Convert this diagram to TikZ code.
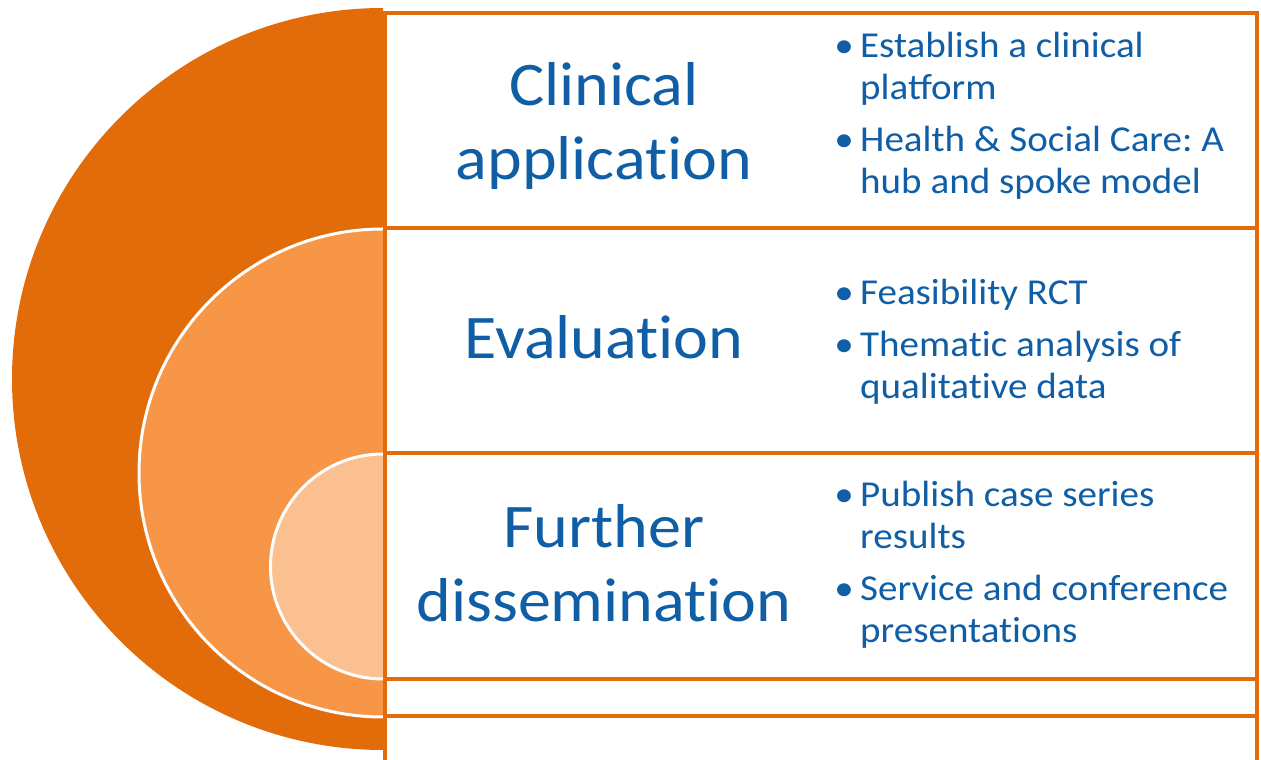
\documentclass[tikz,border=0pt]{standalone}
\usepackage{fontspec}
\setmainfont{Carlito}
\newfontfamily\headfont[FakeStretch=1.065]{Carlito}
\newfontfamily\itemfont[FakeStretch=1.07]{Carlito}
\definecolor{orA}{HTML}{E36C0A}
\definecolor{orB}{HTML}{F79646}
\definecolor{orC}{HTML}{FAC090}
\definecolor{txtblue}{HTML}{105EA6}
\newcommand{\bul}{\makebox[32pt][c]{\textbullet}}
\newcommand{\ti}{t\kern0pt i}
\frenchspacing
\begin{document}
\begin{tikzpicture}[x=1pt,y=1pt,
	rowbox/.style={draw=orA,line width=4.5pt,fill=white},
	title/.style={text=txtblue,font=\headfont\fontsize{62}{74}\selectfont,align=center,inner sep=0pt},
	items/.style={text=txtblue,font=\itemfont\fontsize{36.5}{42}\selectfont,inner sep=0pt,anchor=base west}]
		\useasboundingbox (0,0) rectangle (1261,760);
		% nested half discs
		\fill[orA] (383,752) arc[start angle=90,end angle=270,radius=371] -- cycle;
		\fill[orB] (383,531) arc[start angle=90,end angle=270,radius=244] -- cycle;
		\draw[white,line width=3pt] (383,531) arc[start angle=90,end angle=270,radius=244];
		\fill[orC] (383,306) arc[start angle=90,end angle=270,radius=112.5] -- cycle;
		\draw[white,line width=3pt] (383,306) arc[start angle=90,end angle=270,radius=112.5];
		% rows
		\foreach \ya/\yb in {747/532,532/307,307/81,81/44,44/-10}{
			\draw[rowbox] (385,\ya) rectangle (1257,\yb);
		}
		\node[title] (titA) at (604,634) {Clinical\\applica\ti on};
		\node[title,anchor=base] (titB) at (604,401) {Evalua\ti on};
		\node[title] (titC) at (604,196.5) {Further\\dissemina\ti on};
		\node[items] (lstA) at (828,702) {\begin{tabular}[t]{@{}l@{}l@{}}
			\bul & Establish a clinical\\
			& platform\\[10pt]
			\bul & Health \& Social Care: A\\
			& hub and spoke model
		\end{tabular}};
		\node[items] (lstB) at (828,455) {\begin{tabular}[t]{@{}l@{}l@{}}
			\bul & Feasibility RCT\\[10pt]
			\bul & Thema\ti c analysis of\\
			& qualita\ti ve data
		\end{tabular}};
		\node[items] (lstC) at (828,253) {\begin{tabular}[t]{@{}l@{}l@{}}
			\bul & Publish case series\\
			& results\\[10pt]
			\bul & Service and conference\\
			& presenta\ti ons
		\end{tabular}};
\end{tikzpicture}
\end{document}
